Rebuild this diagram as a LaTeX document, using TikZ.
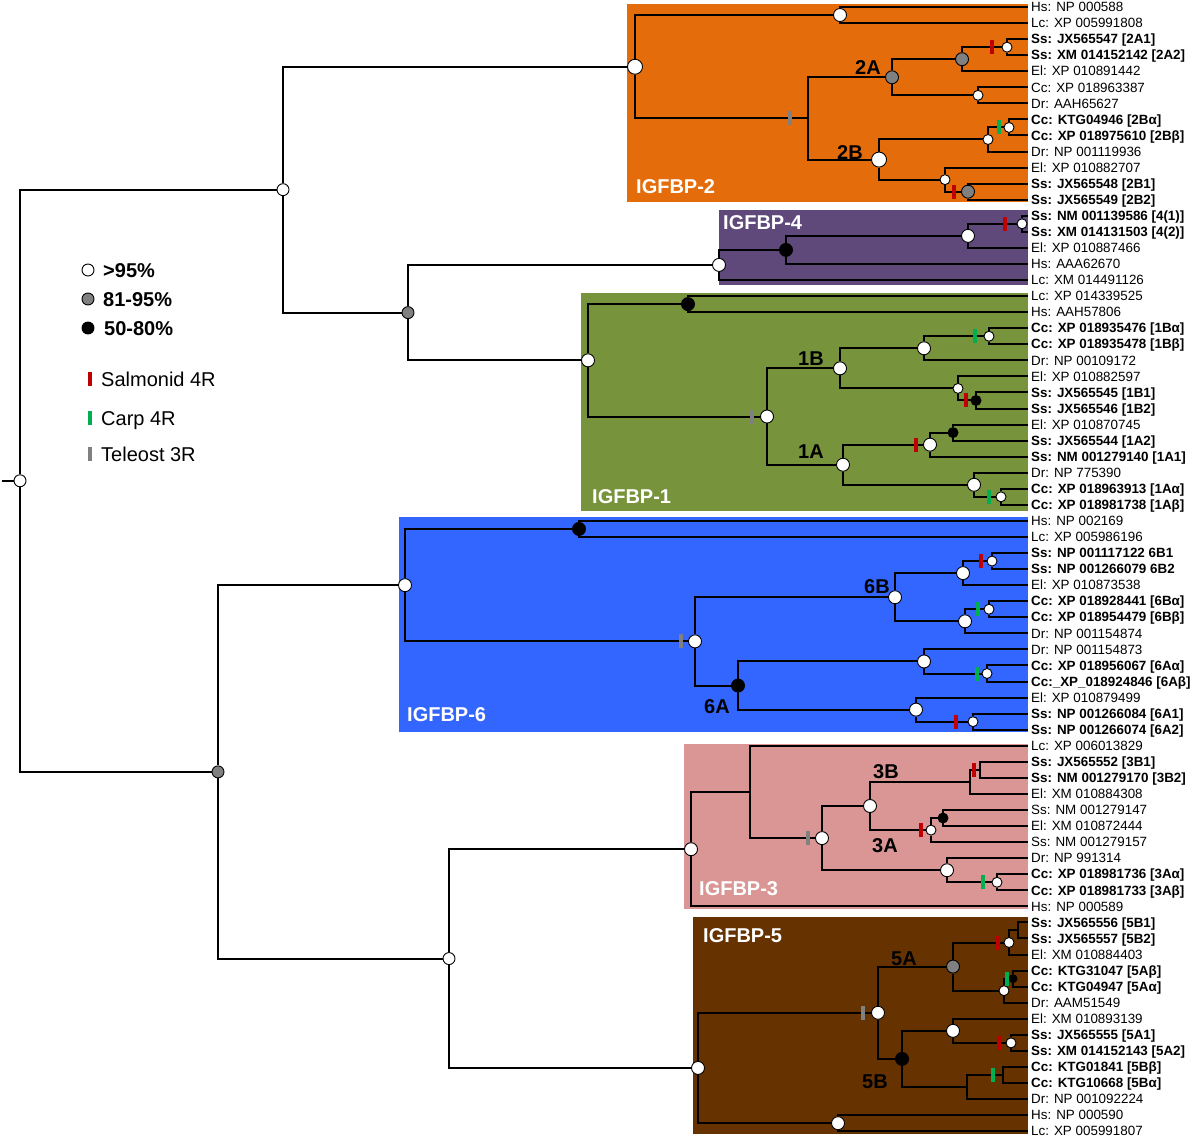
\documentclass[tikz,border=0pt]{standalone}
\usepackage{fontspec}
\setmainfont{Liberation Sans}
\definecolor{box_orange}{RGB}{228,108,10}
\definecolor{box_purple}{RGB}{95,73,122}
\definecolor{box_olive}{RGB}{119,147,60}
\definecolor{box_blue}{RGB}{51,102,255}
\definecolor{box_pink}{RGB}{217,150,148}
\definecolor{box_brown}{RGB}{102,51,0}
\definecolor{node_gray}{RGB}{128,128,128}
\definecolor{bar_red}{RGB}{192,0,0}
\definecolor{bar_green}{RGB}{0,176,80}
\definecolor{bar_gray}{RGB}{128,128,128}

\begin{document}
\begin{tikzpicture}[x=1pt,y=-1pt,
    declare function={row(\k)=16.06*\k-9.06;},
    every edge/.style={draw=black,line width=2pt,to path={|- (\tikztotarget)}}]
    \tikzstyle{nd}=[draw=black, circle, line width=0.9pt, inner sep=0pt, minimum size=13pt]
    \tikzstyle{wn}=[nd,fill=white]
    \tikzstyle{gn}=[nd,fill=node_gray]
    \tikzstyle{bn}=[nd,fill=black]
    \tikzstyle{sm}=[minimum size=10pt]
    \tikzstyle{big}=[minimum size=15pt]
    \tikzstyle{dup}=[inner sep=0pt, minimum width=4pt, minimum height=14pt]
    \tikzstyle{sal}=[dup,fill=bar_red]
    \tikzstyle{carp}=[dup,fill=bar_green]
    \tikzstyle{tel}=[dup,fill=bar_gray]
    \tikzstyle{leaf}=[anchor=base west, yshift=-4.7pt, inner sep=0pt, font=\fontsize{13.4}{15}\selectfont]
    \tikzstyle{clab}=[anchor=base west, yshift=-7.2pt, inner sep=0pt, text=white, font=\bfseries\fontsize{20}{24}\selectfont]
    \tikzstyle{sub}=[anchor=base, yshift=-7.2pt, inner sep=0pt, font=\bfseries\fontsize{20}{24}\selectfont]
    \tikzstyle{lgt}=[anchor=base west, yshift=-7.2pt, inner sep=0pt, font=\fontsize{20}{24}\selectfont]
    \tikzstyle{lgb}=[lgt, font=\bfseries\fontsize{20}{24}\selectfont]

    \useasboundingbox (0,0) rectangle (1193,1138);

    % clade boxes
    \fill[box_orange] (627,4) rectangle (1028,202);
    \fill[box_purple] (719,210) rectangle (1028,285);
    \fill[box_olive]  (581,293) rectangle (1028,511);
    \fill[box_blue]   (399,517) rectangle (1028,732);
    \fill[box_pink]   (684,744) rectangle (1028,909);
    \fill[box_brown]  (693,917) rectangle (1028,1134);
    \node[clab] (c2) at (636,186) {IGFBP-2};
    \node[clab] (c4) at (723,222) {IGFBP-4};
    \node[clab] (c1) at (592,496) {IGFBP-1};
    \node[clab] (c6) at (407,714) {IGFBP-6};
    \node[clab] (c3) at (699,888) {IGFBP-3};
    \node[clab] (c5) at (703,935) {IGFBP-5};

    % leaves
    \foreach \i/\s in {1/{Hs: NP 000588}, 2/{Lc: XP 005991808},
        3/{\bfseries Ss: JX565547 [2A1]}, 4/{\bfseries Ss: XM 014152142 [2A2]},
        5/{El: XP 010891442}, 6/{Cc: XP 018963387}, 7/{Dr: AAH65627},
        8/{\bfseries Cc: KTG04946 [2Bα]}, 9/{\bfseries Cc: XP 018975610 [2Bβ]},
        10/{Dr: NP 001119936}, 11/{El: XP 010882707},
        12/{\bfseries Ss: JX565548 [2B1]}, 13/{\bfseries Ss: JX565549 [2B2]},
        14/{\bfseries Ss: NM 001139586 [4(1)]}, 15/{\bfseries Ss: XM 014131503 [4(2)]},
        16/{El: XP 010887466}, 17/{Hs: AAA62670}, 18/{Lc: XM 014491126},
        19/{Lc: XP 014339525}, 20/{Hs: AAH57806},
        21/{\bfseries Cc: XP 018935476 [1Bα]}, 22/{\bfseries Cc: XP 018935478 [1Bβ]},
        23/{Dr: NP 00109172}, 24/{El: XP 010882597},
        25/{\bfseries Ss: JX565545 [1B1]}, 26/{\bfseries Ss: JX565546 [1B2]},
        27/{El: XP 010870745},
        28/{\bfseries Ss: JX565544 [1A2]}, 29/{\bfseries Ss: NM 001279140 [1A1]},
        30/{Dr: NP 775390},
        31/{\bfseries Cc: XP 018963913 [1Aα]}, 32/{\bfseries Cc: XP 018981738 [1Aβ]},
        33/{Hs: NP 002169}, 34/{Lc: XP 005986196},
        35/{\bfseries Ss: NP 001117122 6B1}, 36/{\bfseries Ss: NP 001266079 6B2},
        37/{El: XP 010873538},
        38/{\bfseries Cc: XP 018928441 [6Bα]}, 39/{\bfseries Cc: XP 018954479 [6Bβ]},
        40/{Dr: NP 001154874}, 41/{Dr: NP 001154873},
        42/{\bfseries Cc: XP 018956067 [6Aα]}, 43/{\bfseries Cc:\_XP\_018924846 [6Aβ]},
        44/{El: XP 010879499},
        45/{\bfseries Ss: NP 001266084 [6A1]}, 46/{\bfseries Ss: NP 001266074 [6A2]},
        47/{Lc: XP 006013829},
        48/{\bfseries Ss: JX565552 [3B1]}, 49/{\bfseries Ss: NM 001279170 [3B2]},
        50/{El: XM 010884308}, 51/{Ss: NM 001279147}, 52/{El: XM 010872444},
        53/{Ss: NM 001279157}, 54/{Dr: NP 991314},
        55/{\bfseries Cc: XP 018981736 [3Aα]}, 56/{\bfseries Cc: XP 018981733 [3Aβ]},
        57/{Hs: NP 000589},
        58/{\bfseries Ss: JX565556 [5B1]}, 59/{\bfseries Ss: JX565557 [5B2]},
        60/{El: XM 010884403},
        61/{\bfseries Cc: KTG31047 [5Aβ]}, 62/{\bfseries Cc: KTG04947 [5Aα]},
        63/{Dr: AAM51549}, 64/{El: XM 010893139},
        65/{\bfseries Ss: JX565555 [5A1]}, 66/{\bfseries Ss: XM 014152143 [5A2]},
        67/{\bfseries Cc: KTG01841 [5Bβ]}, 68/{\bfseries Cc: KTG10668 [5Bα]},
        69/{Dr: NP 001092224}, 70/{Hs: NP 000590}, 71/{Lc: XP 005991807}} {
        \coordinate (l\i) at (1028,{row(\i)});
        \node[leaf] (t\i) at (1031,{row(\i)}) {\s};
    }

    % backbone
    \coordinate (stub) at (2,{row(30.5)});
    \node[wn,minimum size=12pt] (root) at (20,{row(30.5)}) {};
    \node[wn,minimum size=12pt] (nB) at (283,{row(12.375)}) {};
    \node[gn,minimum size=12pt] (nA) at (408,{row(20.03)}) {};
    \node[gn,minimum size=12pt] (nD) at (218,{row(48.625)}) {};
    \node[wn,minimum size=12pt] (nC) at (449,{row(60.25)}) {};

    % IGFBP-2
    \node[wn,big] (r2)   at (635,{row(4.72)}) {};
    \node[wn]     (a2h)  at (840,{row(1.5)}) {};
    \coordinate   (d2)   at (808,{row(7.94)});
    \node[gn]     (n2A)  at (892,{row(5.375)}) {};
    \node[gn]     (p2a2) at (962,{row(4.25)}) {};
    \node[wn,sm]  (p2a1) at (1007,{row(3.5)}) {};
    \node[wn,sm]  (p2a3) at (978,{row(6.5)}) {};
    \node[wn,big] (n2B)  at (879,{row(10.5)}) {};
    \node[wn,sm]  (p2b2) at (988,{row(9.25)}) {};
    \node[wn,sm]  (p2b1) at (1009,{row(8.5)}) {};
    \node[wn,sm]  (p2b4) at (945,{row(11.75)}) {};
    \node[gn]     (p2b3) at (968,{row(12.5)}) {};

    % IGFBP-4
    \node[wn]    (r4)  at (719,{row(17.06)}) {};
    \node[bn]    (p4c) at (786,{row(16.125)}) {};
    \node[wn]    (p4b) at (968,{row(15.25)}) {};
    \node[wn,sm] (p4a) at (1022,{row(14.5)}) {};

    % IGFBP-1
    \node[wn]    (r1)  at (588,{row(23)}) {};
    \node[bn]    (p1a) at (688,{row(19.5)}) {};
    \node[wn]    (d1)  at (767,{row(26.5)}) {};
    \node[wn]    (n1B) at (840,{row(23.5)}) {};
    \node[wn]    (p1c) at (924,{row(22.25)}) {};
    \node[wn,sm] (p1b) at (989,{row(21.5)}) {};
    \node[wn,sm] (p1e) at (958,{row(24.75)}) {};
    \node[bn,sm] (p1d) at (976,{row(25.5)}) {};
    \node[wn]    (n1A) at (843,{row(29.5)}) {};
    \node[wn]    (p1g) at (930,{row(28.25)}) {};
    \node[bn,sm] (p1f) at (953,{row(27.5)}) {};
    \node[wn]    (p1i) at (974,{row(30.75)}) {};
    \node[wn,sm] (p1h) at (1001,{row(31.5)}) {};

    % IGFBP-6
    \node[wn]    (r6)  at (405,{row(37)}) {};
    \node[bn]    (p6a) at (579,{row(33.5)}) {};
    \node[wn]    (d6)  at (695,{row(40.5)}) {};
    \node[wn]    (n6B) at (895,{row(37.75)}) {};
    \node[wn]    (p6c) at (963,{row(36.25)}) {};
    \node[wn,sm] (p6b) at (992,{row(35.5)}) {};
    \node[wn]    (p6e) at (965,{row(39.25)}) {};
    \node[wn,sm] (p6d) at (989,{row(38.5)}) {};
    \node[bn]    (n6A) at (738,{row(43.25)}) {};
    \node[wn]    (p6g) at (924,{row(41.75)}) {};
    \node[wn,sm] (p6f) at (987,{row(42.5)}) {};
    \node[wn]    (p6i) at (916,{row(44.75)}) {};
    \node[wn,sm] (p6h) at (973,{row(45.5)}) {};

    % IGFBP-3
    \node[wn]    (r3)  at (691,{row(53.44)}) {};
    \coordinate  (p3h) at (750,{row(49.875)});
    \node[wn]    (d3)  at (822,{row(52.75)}) {};
    \node[wn]    (p3c) at (870,{row(50.75)}) {};
    \coordinate  (p3b) at (970,{row(49.25)});
    \coordinate  (p3a) at (980,{row(48.5)});
    \node[wn,sm] (p3e) at (931,{row(52.25)}) {};
    \node[bn,sm] (p3d) at (943,{row(51.5)}) {};
    \node[wn]    (p3g) at (947,{row(54.75)}) {};
    \node[wn,sm] (p3f) at (997,{row(55.5)}) {};

    % IGFBP-5
    \node[wn]    (r5)  at (698,{row(67.06)}) {};
    \node[wn]    (d5)  at (878,{row(63.625)}) {};
    \node[gn]    (n5A) at (953,{row(60.75)}) {};
    \node[wn,sm] (p5b) at (1009,{row(59.25)}) {};
    \coordinate  (p5a) at (1018,{row(58.5)});
    \node[wn,sm] (p5d) at (1004,{row(62.25)}) {};
    \node[bn,minimum size=8pt] (p5c) at (1013,{row(61.5)}) {};
    \node[bn]    (n5B) at (902,{row(66.5)}) {};
    \node[wn]    (p5f) at (953,{row(64.75)}) {};
    \node[wn,sm] (p5e) at (1011,{row(65.5)}) {};
    \coordinate  (p5h) at (967,{row(68.25)});
    \coordinate  (p5g) at (1003,{row(67.5)});
    \node[wn]    (p5i) at (838,{row(70.5)}) {};

    \path
     (stub) edge (root)
     (root) edge (nB) edge (nD)
     (nB) edge (r2) edge (nA)
     (nA) edge (r4) edge (r1)
     (nD) edge (r6) edge (nC)
     (nC) edge (r3) edge (r5)
     % IGFBP-2
     (r2) edge (a2h) edge (d2)
     (a2h) edge (l1) edge (l2)
     (d2) edge (n2A) edge (n2B)
     (n2A) edge (p2a2) edge (p2a3)
     (p2a2) edge (p2a1) edge (l5)
     (p2a1) edge (l3) edge (l4)
     (p2a3) edge (l6) edge (l7)
     (n2B) edge (p2b2) edge (p2b4)
     (p2b2) edge (p2b1) edge (l10)
     (p2b1) edge (l8) edge (l9)
     (p2b4) edge (l11) edge (p2b3)
     (p2b3) edge (l12) edge (l13)
     % IGFBP-4
     (r4) edge (p4c) edge (l18)
     (p4c) edge (p4b) edge (l17)
     (p4b) edge (p4a) edge (l16)
     (p4a) edge (l14) edge (l15)
     % IGFBP-1
     (r1) edge (p1a) edge (d1)
     (p1a) edge (l19) edge (l20)
     (d1) edge (n1B) edge (n1A)
     (n1B) edge (p1c) edge (p1e)
     (p1c) edge (p1b) edge (l23)
     (p1b) edge (l21) edge (l22)
     (p1e) edge (l24) edge (p1d)
     (p1d) edge (l25) edge (l26)
     (n1A) edge (p1g) edge (p1i)
     (p1g) edge (p1f) edge (l29)
     (p1f) edge (l27) edge (l28)
     (p1i) edge (l30) edge (p1h)
     (p1h) edge (l31) edge (l32)
     % IGFBP-6
     (r6) edge (p6a) edge (d6)
     (p6a) edge (l33) edge (l34)
     (d6) edge (n6B) edge (n6A)
     (n6B) edge (p6c) edge (p6e)
     (p6c) edge (p6b) edge (l37)
     (p6b) edge (l35) edge (l36)
     (p6e) edge (p6d) edge (l40)
     (p6d) edge (l38) edge (l39)
     (n6A) edge (p6g) edge (p6i)
     (p6g) edge (l41) edge (p6f)
     (p6f) edge (l42) edge (l43)
     (p6i) edge (l44) edge (p6h)
     (p6h) edge (l45) edge (l46)
     % IGFBP-3
     (r3) edge (p3h) edge (l57)
     (p3h) edge (l47) edge (d3)
     (d3) edge (p3c) edge (p3g)
     (p3c) edge (p3b) edge (p3e)
     (p3b) edge (p3a) edge (l50)
     (p3a) edge (l48) edge (l49)
     (p3e) edge (p3d) edge (l53)
     (p3d) edge (l51) edge (l52)
     (p3g) edge (l54) edge (p3f)
     (p3f) edge (l55) edge (l56)
     % IGFBP-5
     (r5) edge (d5) edge (p5i)
     (d5) edge (n5A) edge (n5B)
     (n5A) edge (p5b) edge (p5d)
     (p5b) edge (p5a) edge (l60)
     (p5a) edge (l58) edge (l59)
     (p5d) edge (p5c) edge (l63)
     (p5c) edge (l61) edge (l62)
     (n5B) edge (p5f) edge (p5h)
     (p5f) edge (l64) edge (p5e)
     (p5e) edge (l65) edge (l66)
     (p5h) edge (p5g) edge (l69)
     (p5g) edge (l67) edge (l68)
     (p5i) edge (l70) edge (l71)
     ;

    % duplication marks
    \node[tel]  (x1)  at (790,{row(7.94)}) {};
    \node[sal]  (x2)  at (992,{row(3.5)}) {};
    \node[carp] (x3)  at (999,{row(8.5)}) {};
    \node[sal]  (x4)  at (954,{row(12.5)}) {};
    \node[sal]  (x5)  at (1005,{row(14.5)}) {};
    \node[tel]  (x6)  at (752,{row(26.5)}) {};
    \node[carp] (x7)  at (975,{row(21.5)}) {};
    \node[sal]  (x8)  at (966,{row(25.5)}) {};
    \node[sal]  (x9)  at (916,{row(28.25)}) {};
    \node[carp] (x10) at (989,{row(31.5)}) {};
    \node[tel]  (x11) at (681,{row(40.5)}) {};
    \node[sal]  (x12) at (981,{row(35.5)}) {};
    \node[carp] (x13) at (978,{row(38.5)}) {};
    \node[carp] (x14) at (977,{row(42.5)}) {};
    \node[sal]  (x15) at (956,{row(45.5)}) {};
    \node[tel]  (x16) at (808,{row(52.75)}) {};
    \node[sal]  (x17) at (974,{row(48.5)}) {};
    \node[sal]  (x18) at (921,{row(52.25)}) {};
    \node[carp] (x19) at (983,{row(55.5)}) {};
    \node[tel]  (x20) at (863,{row(63.625)}) {};
    \node[sal]  (x21) at (998,{row(59.25)}) {};
    \node[carp] (x22) at (1007,{row(61.5)}) {};
    \node[sal]  (x23) at (999,{row(65.5)}) {};
    \node[carp] (x24) at (993,{row(67.5)}) {};

    % subfamily labels
    \node[sub] (s2A) at (868,67) {2A};
    \node[sub] (s2B) at (850,152) {2B};
    \node[sub] (s1B) at (811,358) {1B};
    \node[sub] (s1A) at (811,451) {1A};
    \node[sub] (s6B) at (877,586) {6B};
    \node[sub] (s6A) at (717,706) {6A};
    \node[sub] (s3B) at (886,771) {3B};
    \node[sub] (s3A) at (885,845) {3A};
    \node[sub] (s5A) at (904,958) {5A};
    \node[sub] (s5B) at (875,1081) {5B};

    % legend
    \node[wn,minimum size=12pt] (k1) at (88,270) {};
    \node[gn,minimum size=12pt] (k2) at (88,299) {};
    \node[bn,minimum size=12pt] (k3) at (88,328) {};
    \node[lgb] (kt1) at (103,270) {>95\%};
    \node[lgb] (kt2) at (103,299) {81-95\%};
    \node[lgb] (kt3) at (104,328) {50-80\%};
    \node[sal]  (k4) at (90,379) {};
    \node[carp] (k5) at (90,418) {};
    \node[tel]  (k6) at (90,454) {};
    \node[lgt] (kt4) at (101,379) {Salmonid 4R};
    \node[lgt] (kt5) at (101,418) {Carp 4R};
    \node[lgt] (kt6) at (101,454) {Teleost 3R};
\end{tikzpicture}
\end{document}
